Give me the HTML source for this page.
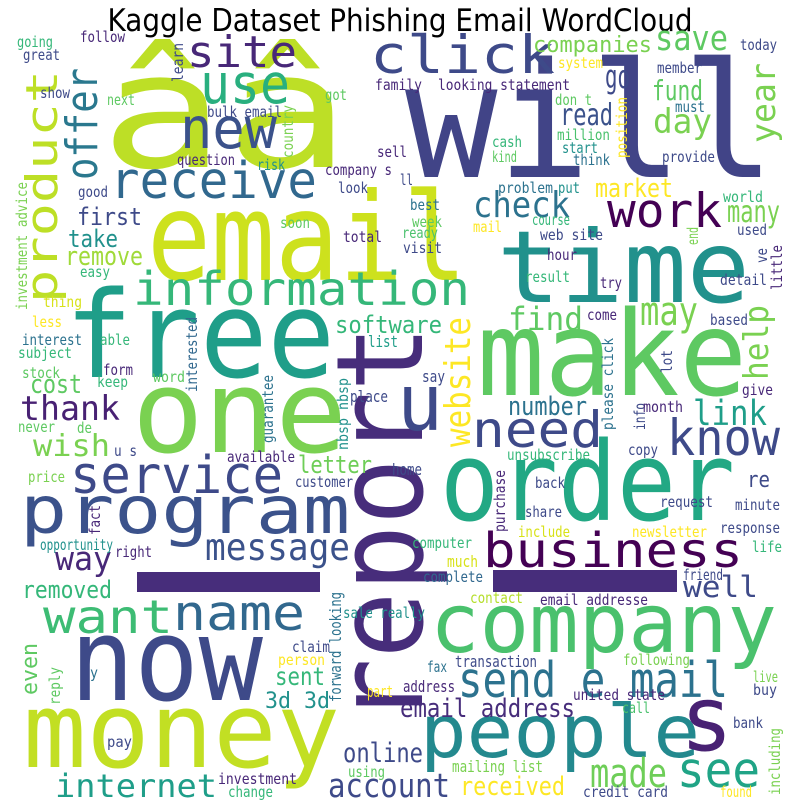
<!DOCTYPE html>
<html><head><meta charset="utf-8"><style>
html,body{margin:0;padding:0;background:#fff;}
svg{display:block;}
text{font-family:"DejaVu Sans Mono","Liberation Mono",monospace;}
</style></head><body>
<svg id="chart" width="800" height="800" viewBox="0 0 800 800" xmlns="http://www.w3.org/2000/svg">
<rect width="800" height="800" fill="#fff"/>
<text x="400" y="31" text-anchor="middle" font-size="31" textLength="585" lengthAdjust="spacingAndGlyphs" style="font-family:'DejaVu Sans','Liberation Sans',sans-serif" fill="#000">Kaggle Dataset Phishing Email WordCloud</text>
<rect x="137" y="572" width="183" height="20" fill="#472d7b"/>
<rect x="493" y="570" width="184" height="22" fill="#472d7b"/>
<g id="words"></g>
</svg>
<script>
// each row: word, font size, color, x, baseline y, text length, rotated(-90)
const cloud = [
["ââ",160,"#bddf26",100,167,250,0],
["will",160,"#414487",405,177,370,0],
["email",122,"#cde11d",147,280,320,0],
["time",100,"#21918c",497,302,253,0],
["free",120,"#1f9e89",65,377,270,0],
["make",118,"#5ec962",477,395,270,0],
["one",115,"#7ad151",132,452,215,0],
["report",120,"#472d7b",422,725,400,1],
["order",110,"#22a884",440,520,295,0],
["program",66,"#3b528b",20,533,330,0],
["company",82,"#4ac16d",430,652,347,0],
["now",115,"#3e4a89",70,700,193,0],
["money",104,"#c2df23",23,767,317,0],
["people",73,"#23898e",420,757,280,0],
["s",90,"#482173",680,750,53,0],
["business",48,"#440154",483,567,260,0],
["information",46,"#35b779",133,305,337,0],
["receive",51,"#31688e",110,198,207,0],
["product",44,"#bddf26",57,303,233,1],
["offer",44,"#2a788e",97,180,112,1],
["site",44,"#482878",187,67,110,0],
["use",55,"#29af7f",200,103,90,0],
["new",57,"#3b528b",180,148,97,0],
["click",53,"#3e4a89",370,73,185,0],
["save",35,"#5ec962",655,50,73,0],
["companies",22,"#7ad151",533,52,119,0],
["work",47,"#440154",607,227,115,0],
["check",36,"#2c728e",473,217,97,0],
["send e mail",49,"#2c728e",458,697,270,0],
["know",50,"#3e4a89",667,455,113,0],
["need",50,"#3e4a89",472,447,131,0],
["u",78,"#3e4a89",397,430,46,0],
["service",52,"#3e4a89",70,493,213,0],
["message",37,"#3b528b",205,560,145,0],
["want",46,"#3dbc74",43,633,130,0],
["name",49,"#31688e",173,630,132,0],
["way",33,"#482878",55,570,57,0],
["removed",24,"#35b779",22,598,90,0],
["well",29,"#3e4a89",683,597,75,0],
["internet",32,"#1f9e89",55,797,162,0],
["account",33,"#3e4a89",328,797,122,0],
["see",49,"#20a486",677,787,83,0],
["made",40,"#6ece58",590,787,77,0],
["received",26,"#fde725",460,795,105,0],
["email address",26,"#472d7b",400,717,175,0],
["online",27,"#3e4a89",343,762,80,0],
["3d 3d",22,"#21918c",265,708,65,0],
["sent",25,"#35b779",275,685,50,0],
["mailing list",16,"#7ad151",452,772,91,0],
["using",15,"#5ec962",348,777,37,0],
["investment",15,"#482878",218,784,79,0],
["change",15,"#35b779",228,797,45,0],
["part",16,"#fde725",367,697,26,0],
["address",16,"#482878",403,692,52,0],
["fax",15,"#2c728e",427,672,20,0],
["transaction",16,"#3e4a89",455,667,82,0],
["sale really",15,"#21918c",343,618,82,0],
["forward looking",16,"#2c728e",341,702,110,1],
["claim",15,"#3e4a89",292,652,38,0],
["person",15,"#fde725",278,665,47,0],
["complete",15,"#31688e",423,582,60,0],
["contact",15,"#b5de2b",470,603,53,0],
["much",16,"#d8e219",447,567,31,0],
["computer",15,"#35b779",412,548,60,0],
["customer",15,"#3e4a89",295,487,58,0],
["home",16,"#3e4a89",392,475,30,0],
["letter",24,"#6ece58",298,473,74,0],
["available",15,"#482878",227,462,68,0],
["guarantee",15,"#2c728e",273,443,68,1],
["nbsp nbsp",15,"#21918c",348,450,72,1],
["place",16,"#3e4a89",350,402,38,0],
["say",16,"#3e4a89",422,382,23,0],
["list",16,"#1f9e89",368,347,30,0],
["software",24,"#35b779",335,333,107,0],
["website",36,"#fde725",470,447,130,1],
["interested",15,"#31688e",197,392,75,1],
["thank",34,"#482173",20,420,100,0],
["wish",30,"#7ad151",33,456,77,0],
["cost",26,"#5ec962",30,393,52,0],
["remove",26,"#a0da39",65,265,78,0],
["take",24,"#21918c",68,247,50,0],
["first",24,"#3e4a89",77,225,65,0],
["easy",15,"#35b779",80,277,30,0],
["thing",15,"#d8e219",43,307,39,0],
["less",15,"#fde725",32,327,30,0],
["able",15,"#35b779",100,345,30,0],
["interest",15,"#2c728e",22,345,60,0],
["subject",15,"#35b779",18,358,54,0],
["stock",15,"#5ec962",22,378,38,0],
["form",15,"#482878",103,375,30,0],
["keep",15,"#35b779",97,387,31,0],
["word",15,"#5ec962",153,382,32,0],
["investment advice",15,"#7ad151",27,310,128,1],
["good",15,"#3e4a89",78,197,30,0],
["going",15,"#35b779",17,47,36,0],
["great",15,"#3e4a89",23,60,37,0],
["follow",15,"#482878",80,42,45,0],
["show",15,"#3e4a89",40,98,30,0],
["next",15,"#5ec962",107,105,28,0],
["learn",15,"#3e4a89",183,82,39,1],
["got",15,"#5ec962",325,100,22,0],
["family",15,"#482878",375,90,47,0],
["looking statement",15,"#482878",438,90,132,0],
["system",15,"#fde725",558,68,45,0],
["don t",15,"#5ec962",555,105,37,0],
["must",15,"#2c728e",675,112,30,0],
["member",15,"#3e4a89",657,73,45,0],
["today",15,"#3e4a89",740,50,37,0],
["bulk email",15,"#3e4a89",207,117,75,0],
["question",15,"#482878",177,165,58,0],
["risk",15,"#21918c",257,170,28,0],
["country",15,"#7ad151",293,158,53,1],
["company s",15,"#482878",325,175,67,0],
["sell",15,"#482878",377,157,30,0],
["ll",15,"#3e4a89",400,185,13,0],
["look",15,"#3e4a89",338,193,30,0],
["million",15,"#4ac16d",557,140,53,0],
["cash",15,"#35b779",492,147,30,0],
["start",15,"#21918c",562,153,36,0],
["think",15,"#2c728e",573,165,37,0],
["position",15,"#fde725",627,158,61,1],
["kind",15,"#5ec962",492,162,25,0],
["provide",15,"#3e4a89",662,162,53,0],
["problem",15,"#2c728e",498,193,55,0],
["put",15,"#21918c",558,193,22,0],
["best",15,"#2c728e",410,210,30,0],
["week",15,"#5ec962",412,227,30,0],
["ready",15,"#4ac16d",402,238,36,0],
["web site",15,"#3e4a89",540,240,63,0],
["course",15,"#35b779",532,225,38,0],
["total",15,"#482878",343,242,39,0],
["soon",15,"#5ec962",280,228,30,0],
["visit",15,"#3e4a89",403,253,39,0],
["mail",15,"#fde725",473,232,29,0],
["hour",15,"#482878",547,260,30,0],
["result",15,"#35b779",525,282,45,0],
["try",15,"#482878",600,288,22,0],
["world",15,"#35b779",723,202,40,0],
["used",15,"#3e4a89",737,235,30,0],
["end",15,"#7ad151",698,245,18,1],
["ve",15,"#3e4a89",767,263,15,1],
["little",15,"#482878",782,290,45,1],
["detail",15,"#3e4a89",720,285,47,0],
["come",15,"#482878",587,320,30,0],
["based",15,"#3e4a89",710,325,38,0],
["lot",15,"#3e4a89",672,373,23,1],
["give",15,"#482878",742,395,31,0],
["please click",15,"#2c728e",613,430,92,1],
["info",15,"#3e4a89",645,430,27,1],
["month",15,"#482878",643,412,40,0],
["copy",15,"#3e4a89",628,455,30,0],
["unsubscribe",15,"#35b779",507,460,83,0],
["may",40,"#7ad151",640,325,58,0],
["find",32,"#5ec962",508,330,75,0],
["help",34,"#7ad151",768,380,75,1],
["link",35,"#1f9e89",693,425,74,0],
["number",26,"#2c728e",508,415,79,0],
["market",26,"#fde725",595,197,78,0],
["many",30,"#7ad151",727,222,53,0],
["day",34,"#7ad151",653,133,59,0],
["year",34,"#7ad151",775,143,80,1],
["fund",28,"#5ec962",652,100,51,0],
["read",30,"#3b528b",560,125,53,0],
["go",32,"#3e4a89",605,88,25,0],
["re",22,"#3e4a89",747,487,23,0],
["minute",15,"#3e4a89",735,510,45,0],
["request",15,"#3e4a89",660,507,53,0],
["response",15,"#3e4a89",720,533,60,0],
["newsletter",15,"#fde725",632,537,75,0],
["include",15,"#d8e219",518,537,52,0],
["share",15,"#3e4a89",525,517,37,0],
["back",15,"#3e4a89",535,488,30,0],
["life",15,"#35b779",752,552,30,0],
["purchase",15,"#482878",505,532,62,1],
["friend",15,"#3e4a89",683,580,40,0],
["following",15,"#7ad151",623,665,67,0],
["united state",15,"#482878",573,700,92,0],
["call",15,"#4ac16d",622,713,28,0],
["live",15,"#7ad151",753,682,25,0],
["buy",15,"#3e4a89",753,695,24,0],
["bank",15,"#3e4a89",733,728,30,0],
["including",15,"#7ad151",780,795,67,1],
["found",15,"#fde725",720,797,32,0],
["credit card",15,"#3e4a89",583,797,85,0],
["email addresse",15,"#482878",540,605,108,0],
["even",22,"#5ec962",37,695,52,1],
["reply",15,"#5ec962",60,705,38,1],
["y",15,"#2c728e",90,678,8,0],
["pay",15,"#3e4a89",107,747,25,0],
["opportunity",15,"#21918c",40,550,73,0],
["right",15,"#482878",115,557,37,0],
["fact",15,"#482878",100,535,30,1],
["price",15,"#7ad151",28,482,37,0],
["never",15,"#5ec962",18,432,37,0],
["de",15,"#5ec962",77,433,15,0],
["u s",15,"#3e4a89",114,456,23,0]
];
const words = cloud.map(r => r[0]);
const fontSizes = cloud.map(r => r[1]);

const g = document.getElementById('words');
const NS = 'http://www.w3.org/2000/svg';
for (let i = 0; i < cloud.length; i++) {
  const r = cloud[i];
  const t = document.createElementNS(NS, 'text');
  t.setAttribute('x', r[3]);
  t.setAttribute('y', r[4]);
  t.setAttribute('font-size', fontSizes[i]);
  t.setAttribute('textLength', r[5]);
  t.setAttribute('lengthAdjust', 'spacingAndGlyphs');
  t.setAttribute('fill', r[2]);
  if (r[6]) t.setAttribute('transform', 'rotate(-90 ' + r[3] + ' ' + r[4] + ')');
  t.textContent = words[i];
  
  
  g.appendChild(t);
}
</script>
</body></html>
